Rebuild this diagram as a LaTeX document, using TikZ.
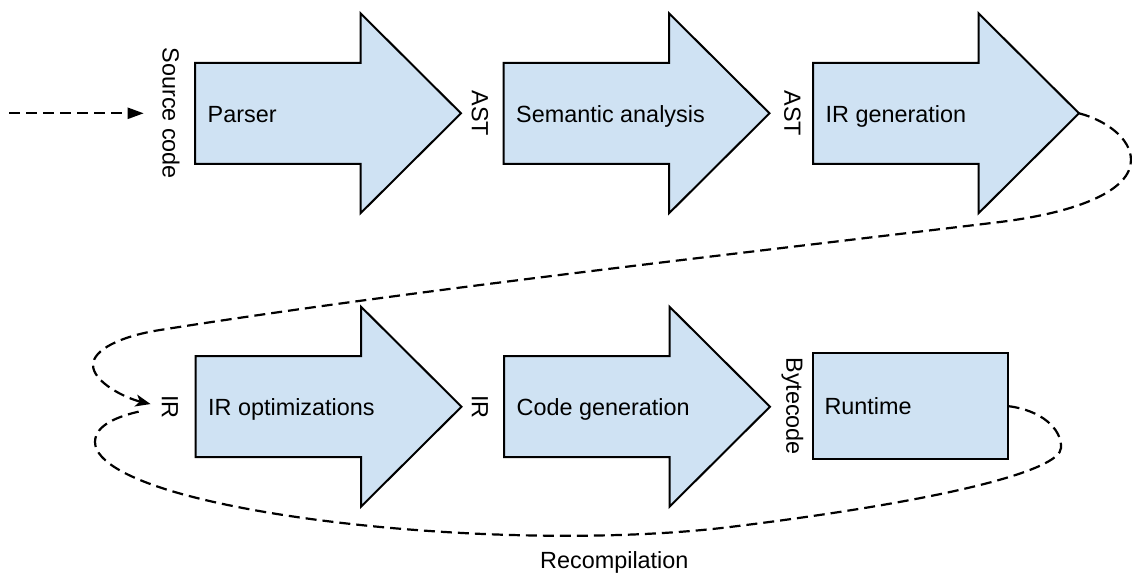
\documentclass[tikz,border=0pt]{standalone}
\usepackage{fontspec}
\setmainfont{Liberation Sans}
\usetikzlibrary{arrows.meta}
\definecolor{boxblue}{RGB}{207,226,243}
\tikzset{
  arrowbody/.style={draw=black, fill=boxblue, line width=2bp, line join=miter},
  lbl/.style={font=\fontsize{23.4bp}{28bp}\selectfont, inner sep=0pt},
  vlbl/.style={lbl, rotate=-90},
  flow/.style={line width=2.2bp, dash pattern=on 11bp off 6bp},
  rtbox/.style={draw=black, fill=boxblue, line width=2bp, lbl, text width=171bp,
    inner xsep=12bp, inner ysep=0pt, minimum height=106.3bp, align=left},
}
% #1 name, #2 left x, #3 centre y, #4 text
\newcommand{\fatarrow}[4]{%
  \draw[arrowbody] (#2,#3-50.5) -- (#2+165.5,#3-50.5) -- (#2+165.5,#3-100)
     -- (#2+266,#3) -- (#2+165.5,#3+100) -- (#2+165.5,#3+50.5) -- (#2,#3+50.5) -- cycle;
  \coordinate (#1-tip) at (#2+266,#3);
  \node[lbl, anchor=base west] (#1) at (#2+12.5,#3+9) {#4};%
}
\begin{document}
\begin{tikzpicture}[x=1bp,y=-1bp]
\useasboundingbox (0,0) rectangle (1132,574);

% top row
\fatarrow{parser}{195}{113.3}{Parser}
\fatarrow{sem}{503.5}{113.3}{Semantic analysis}
\fatarrow{irgen}{813}{113.3}{IR generation}

% bottom row
\fatarrow{iropt}{195.5}{406.7}{IR optimizations}
\fatarrow{codegen}{504}{406.7}{Code generation}
\node[rtbox] (runtime) at (910,406.2) {Runtime};

% rotated labels
\node[vlbl] (src) at (171,113.3) {Source code};
\node[vlbl] (ast1) at (480,113.3) {AST};
\node[vlbl] (ast2) at (792.5,113.3) {AST};
\node[vlbl] (ir1) at (170,406.7) {IR};
\node[vlbl] (ir2) at (480,406.7) {IR};
\node[vlbl] (byte) at (792.5,406.2) {Bytecode};

\node[lbl, anchor=base west] (recomp) at (540,568.5) {Recompilation};

% input
\coordinate (in) at (9,113.3);
\draw[flow, -{Triangle[length=16bp,width=11bp]}, shorten >=18.5bp] (in) -- (src.south);

% IR generation -> IR
\draw[flow, -{Stealth[length=15bp,width=12bp,inset=4bp]}, shorten >=11.5bp]
  (irgen-tip) .. controls (1105,120) and (1131,138) .. (1131,160)
  .. controls (1131,190) and (1080,212) .. (1000,222)
  .. controls (700,258) and (400,292) .. (160,330)
  .. controls (120,336.3) and (93,350) .. (93,365)
  .. controls (93,382) and (125,398) .. (ir1.south);

% Runtime -> IR (recompilation)
\draw[flow, shorten >=20bp]
  (runtime.east) .. controls (1040,410) and (1062,428) .. (1061,448)
  .. controls (1060,470) and (950,500) .. (730,527)
  .. controls (570,546.6) and (330,532) .. (193,497)
  .. controls (133,481.7) and (95,462) .. (95,442)
  .. controls (95,425) and (118,416) .. (ir1.south);
\end{tikzpicture}
\end{document}
